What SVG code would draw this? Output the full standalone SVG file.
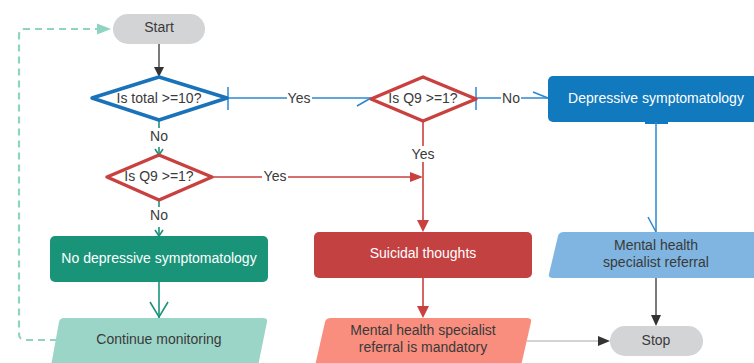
<svg xmlns="http://www.w3.org/2000/svg" width="754" height="363" viewBox="0 0 754 363">
<style>
.t{font-family:"Liberation Sans",Arial,sans-serif;font-size:14px;fill:#3a3a3a;text-anchor:middle;dominant-baseline:central}
.w{fill:#fff}
.lbl{font-family:"Liberation Sans",Arial,sans-serif;font-size:14px;fill:#3a3a3a;text-anchor:middle;dominant-baseline:central}
.bg{fill:#fff}
.blue{stroke:#2b87cf;stroke-width:1.5;fill:none}
.red{stroke:#c8413f;stroke-width:1.6;fill:none}
.teal{stroke:#1a9479;stroke-width:1.6;fill:none}
.dark{stroke:#333;stroke-width:1.3;fill:none}
.dia{fill:#fff;stroke-width:3.5;stroke-linejoin:round}
</style>
<rect width="754" height="363" fill="#fff"/>
<g id="connectors">
  <!-- Start -> D1 -->
  <line class="dark" x1="159" y1="44" x2="159" y2="70"/>
  <polygon points="154,67 164,67 159,77" fill="#333"/>
  <!-- D1 -> D2 Yes -->
  <line class="blue" x1="228" y1="98" x2="371" y2="98"/>
  <line class="blue" x1="228" y1="87" x2="228" y2="110"/>
  <path class="blue" d="M357,106 L371,98"/>
  <rect class="bg" x="287" y="90" width="25" height="16"/>
  <text class="lbl" x="299" y="98">Yes</text>
  <!-- D2 -> Depressive No -->
  <line class="blue" x1="476" y1="98" x2="548" y2="98"/>
  <line class="blue" x1="476" y1="87" x2="476" y2="110"/>
  <path class="blue" d="M533,92 L548,98"/>
  <rect class="bg" x="501" y="90" width="20" height="16"/>
  <text class="lbl" x="511" y="98">No</text>
  <!-- Depressive -> Referral -->
  <rect x="645" y="121" width="23" height="3" fill="#1179bd"/>
  <line class="blue" x1="656" y1="122" x2="656" y2="232"/>
  <path class="blue" d="M648,217 L656,232"/>
  <!-- Referral -> Stop -->
  <line class="dark" x1="656" y1="278" x2="656" y2="318"/>
  <polygon points="651,315 661,315 656,326" fill="#333"/>
  <!-- D2 -> Suicidal Yes -->
  <line class="red" x1="423" y1="121" x2="423" y2="224"/>
  <polygon points="417,220 429,220 423,232" fill="#c8413f"/>
  <rect class="bg" x="410" y="146" width="26" height="16"/>
  <text class="lbl" x="423" y="154">Yes</text>
  <!-- D3 -> vertical Yes -->
  <line class="red" x1="212" y1="177" x2="415" y2="177"/>
  <polygon points="410,172 410,182 423,177" fill="#c8413f"/>
  <rect class="bg" x="262" y="168" width="26" height="16"/>
  <text class="lbl" x="275" y="176">Yes</text>
  <!-- D1 -> D3 No -->
  <line class="teal" x1="159" y1="121" x2="159" y2="128"/>
  <text class="lbl" x="159" y="136">No</text>
  <line class="teal" x1="159" y1="147" x2="159" y2="155"/>
  <path class="teal" d="M155,149 L159,155 L163,149"/>
  <!-- D3 -> NoDep No -->
  <line class="teal" x1="159" y1="200" x2="159" y2="207"/>
  <text class="lbl" x="159" y="215">No</text>
  <line class="teal" x1="159" y1="227" x2="159" y2="236"/>
  <path class="teal" d="M155,230 L159,236 L163,230"/>
  <!-- NoDep -> Continue -->
  <line class="teal" x1="159" y1="282" x2="159" y2="318"/>
  <path class="teal" d="M150,302 L159,317 L168,302"/>
  <!-- Suicidal -> Mandatory -->
  <line class="red" x1="423" y1="278" x2="423" y2="310"/>
  <polygon points="417,306 429,306 423,318" fill="#c8413f"/>
  <!-- Mandatory -> Stop -->
  <line x1="527" y1="341" x2="600" y2="341" stroke="#a8a8a8" stroke-width="1.2"/>
  <polygon points="598,336 598,346 610,341" fill="#333"/>
  <!-- Continue -> Start dashed -->
  <path d="M57,340 H25 Q19,340 19,334 V35 Q19,29 25,29 H100" fill="none" stroke="#8fd3c2" stroke-width="2.2" stroke-dasharray="7 5"/>
  <polygon points="97,23.5 111,29 97,34.5" fill="#8fd3c2"/>
</g>
<g id="start">
  <rect x="113" y="14" width="92" height="30" rx="15" fill="#d3d4d6"/>
  <text class="t" x="159" y="27">Start</text>
</g>
<g id="d1">
  <polygon class="dia" points="92,98 159,77 227,98 159,120" stroke="#1a73b8"/>
  <text class="t" x="159" y="98">Is total &gt;=10?</text>
</g>
<g id="d2">
  <polygon class="dia" points="371,99 423,77 476,99 423,121" stroke="#c8413f"/>
  <text class="t" x="423" y="98">Is Q9 &gt;=1?</text>
</g>
<g id="d3">
  <polygon class="dia" points="107,177 159,155 212,177 159,200" stroke="#c8413f"/>
  <text class="t" x="159" y="176">Is Q9 &gt;=1?</text>
</g>
<g id="depressive">
  <rect x="548" y="76" width="216" height="46" rx="5" fill="#1179bd"/>
  <text class="t w" x="656" y="98">Depressive symptomatology</text>
</g>
<g id="referral">
  <path d="M564,232 H770 V278 H553 Q548,278 549,274 L558,236 Q559,232 564,232 Z" fill="#7fb5e0"/>
  <text class="t" x="656" y="245">Mental health</text>
  <text class="t" x="656" y="262">specialist referral</text>
</g>
<g id="nodep">
  <rect x="50" y="236" width="218" height="46" rx="5" fill="#1a9479"/>
  <text class="t w" x="159" y="258">No depressive symptomatology</text>
</g>
<g id="suicidal">
  <rect x="314" y="232" width="218" height="46" rx="5" fill="#c44142"/>
  <text class="t w" x="423" y="253">Suicidal thoughts</text>
</g>
<g id="continue">
  <path d="M64,318 H263 Q268,318 267,322 L258,366 H51 L59,322 Q60,318 64,318 Z" fill="#9ad5c8"/>
  <text class="t" x="159" y="339">Continue monitoring</text>
</g>
<g id="mandatory">
  <path d="M331,318 H527 Q532,318 531,322 L521,366 H315 L325,322 Q326,318 331,318 Z" fill="#f98e7f"/>
  <text class="t" x="423" y="330">Mental health specialist</text>
  <text class="t" x="423" y="347">referral is mandatory</text>
</g>
<g id="stop">
  <rect x="610" y="326" width="93" height="30" rx="15" fill="#d3d4d6"/>
  <text class="t" x="656" y="340">Stop</text>
</g>
</svg>
